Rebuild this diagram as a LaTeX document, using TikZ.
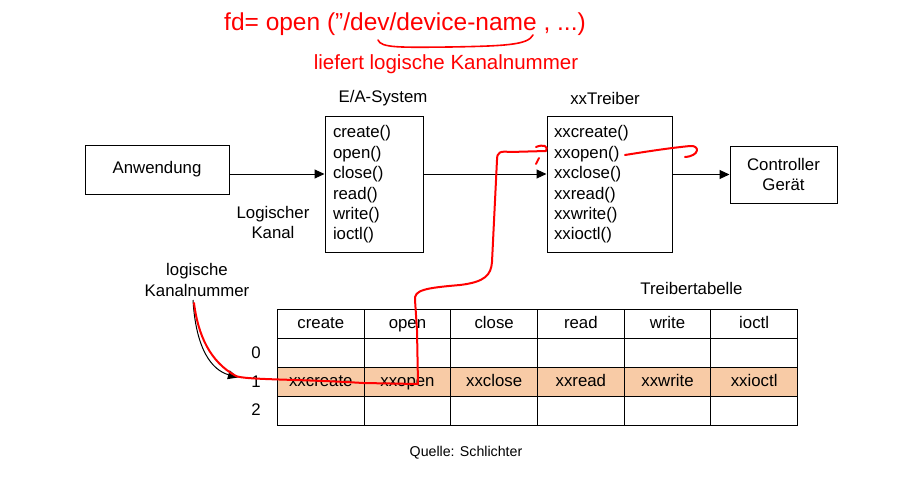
\documentclass[tikz,border=0pt]{standalone}
\usepackage{fontspec}
\setmainfont{Liberation Sans}
\usetikzlibrary{arrows.meta}
\definecolor{peach}{RGB}{248,203,166}
\definecolor{hand}{RGB}{255,0,0}
\begin{document}
\begin{tikzpicture}[x=1pt,y=-1pt,
  every node/.style={font=\fontsize{16.8}{20.4}\selectfont, inner sep=0pt},
  box/.style={draw, line width=1pt},
  arr/.style={line width=1pt, -{Triangle[length=10pt,width=9pt]}},
  cell/.style={draw, line width=1pt, minimum width=86.67pt, minimum height=29pt, anchor=north west, text height=12pt, text depth=3.5pt},
  redline/.style={draw=hand, line width=2pt, line cap=round, line join=round},
  handtext/.style={text=hand, inner sep=0pt}
]
\useasboundingbox (0,0) rectangle (898,487);

% main boxes
\node[box, minimum width=144pt, minimum height=49pt] (anw) at (157,169.5) {Anwendung};
\node[box, align=left, text width=82pt, inner xsep=8pt, minimum height=135pt] (ea) at (374,184.5)
  {create()\\open()\\close()\\read()\\write()\\ioctl()};
\node[box, align=left, text width=111pt, inner xsep=7pt, minimum height=135pt] (xx) at (609.5,184.5)
  {xxcreate()\\xxopen()\\xxclose()\\xxread()\\xxwrite()\\xxioctl()};
\node[box, align=center, minimum width=107pt, minimum height=57pt] (ctrl) at (783.5,174.5)
  {Controller\\Gerät};

\node (eat) at (383,98) {E/A-System};
\node (xxt) at (605,98) {xxTreiber};
\node[align=center] (lk) at (273,222.5) {Logischer\\Kanal};
\node[align=center] (kn) at (197,280) {logische\\Kanalnummer};
\node (tt) at (691.5,288) {Treibertabelle};
\node[font=\fontsize{14.2}{17}\selectfont] (q) at (466,453) {Quelle: Schlichter};

% arrows
\coordinate (ay) at (0,174);
\draw[arr] (anw.east |- ay) -- (ea.west |- ay);
\draw[arr] (ea.east |- ay) -- (xx.west |- ay);
\draw[arr] (xx.east |- ctrl.west) -- (ctrl.west);

% table
\fill[peach] (277,367) rectangle (797,396);
\foreach \c [count=\i from 0] in {create,open,close,read,write,ioctl} {
  \node[cell] (h\i) at (277+\i*86.667,309) {\c};
  \node[cell] (r0\i) at (277+\i*86.667,338) {};
  \node[cell] (r2\i) at (277+\i*86.667,396) {};
}
\foreach \c [count=\i from 0] in {xxcreate,xxopen,xxclose,xxread,xxwrite,xxioctl} {
  \node[cell] (r1\i) at (277+\i*86.667,367) {\c};
}
\node (l0) at (256,353) {0};
\node (l1) at (256,382) {1};
\node (l2) at (256,410) {2};

% curved black arrow
\coordinate (kt) at (238,377.5);
\draw[arr] (193,300) .. controls (196,350) and (212,370) .. (kt);

% handwritten annotations
\node[handtext, font=\fontsize{24.5}{28}\selectfont, anchor=base] (h1) at (405,31) {fd= open ("/dev/device-name , ...)};
\node[handtext, font=\fontsize{20.5}{24}\selectfont, anchor=base] (h2) at (446,70) {liefert logische Kanalnummer};
\draw[redline, line width=1.6pt] (378,40) .. controls (381,48) and (400,47.5) .. (450,47) .. controls (505,46) and (528,45) .. (533,35);

\draw[redline] (194,303) .. controls (198,335) and (210,362) .. (236,376)
  .. controls (245,380) and (300,379) .. (363,383) -- (418,384)
  -- (417,330) -- (415,300) .. controls (414,290) and (425,288) .. (460,285)
  .. controls (485,282) and (491,275) .. (492,262) -- (497,160)
  .. controls (497,152) and (500,151) .. (510,152) -- (546,151)
  .. controls (549,146) and (543,144) .. (536,147);
\draw[redline] (539,158) -- (536,164);
\draw[redline] (625,155) .. controls (650,151) and (670,148) .. (690,146)
  .. controls (700,145) and (700,156) .. (685,157);
\end{tikzpicture}
\end{document}
